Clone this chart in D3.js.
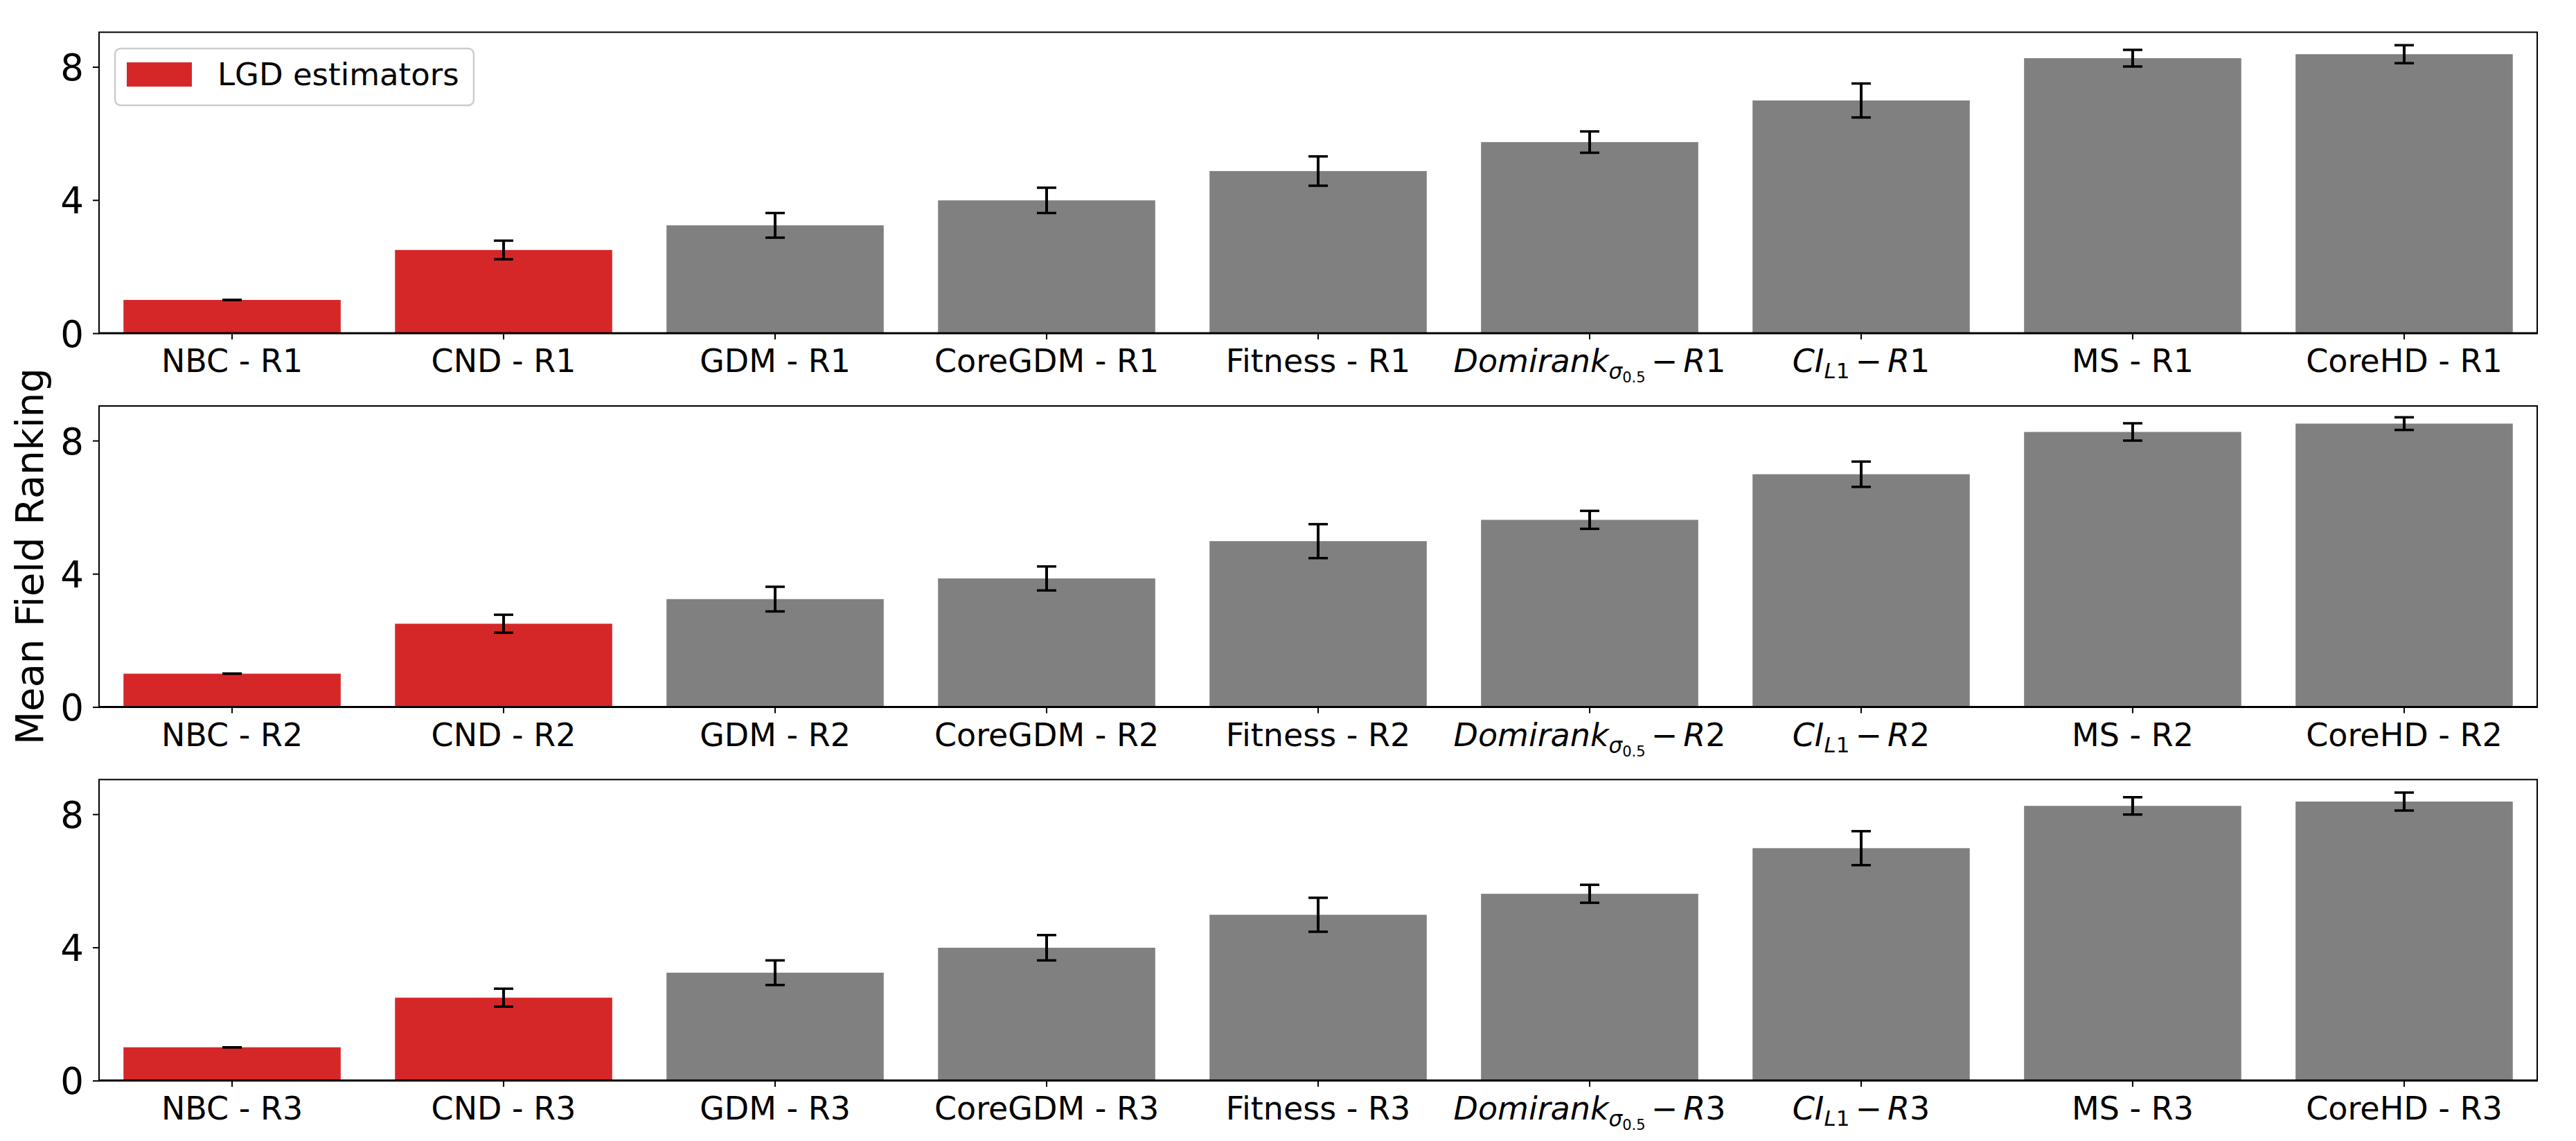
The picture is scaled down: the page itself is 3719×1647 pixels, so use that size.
<!DOCTYPE html>
<html>
<head>
<meta charset="utf-8">
<script src="https://cdn.jsdelivr.net/npm/d3@7"></script>
<style>
body { margin: 0; background: #fff; }
text { font-family: "DejaVu Sans", sans-serif; fill: #000; }
</style>
</head>
<body>
<div id="chart"></div>
<script>
// data
var methods = ["NBC", "CND", "GDM", "CoreGDM", "Fitness", "Domirank", "CI", "MS", "CoreHD"];
var lgdMethods = ["NBC", "CND"];
var runs = ["R1", "R2", "R3"];

var meansR1 = [1.00, 2.50, 3.24, 3.99, 4.87, 5.74, 6.99, 8.26, 8.38];
var errsR1  = [0.00, 0.28, 0.37, 0.38, 0.44, 0.32, 0.51, 0.25, 0.27];
var meansR2 = [1.00, 2.50, 3.24, 3.86, 4.98, 5.62, 6.99, 8.26, 8.51];
var errsR2  = [0.00, 0.27, 0.37, 0.36, 0.51, 0.27, 0.38, 0.26, 0.19];
var meansR3 = [1.00, 2.49, 3.24, 3.99, 4.98, 5.61, 6.98, 8.25, 8.38];
var errsR3  = [0.00, 0.27, 0.37, 0.38, 0.51, 0.27, 0.51, 0.26, 0.27];

var yTicks = [0, 4, 8];
var legendLabel = "LGD estimators";
var yLabel = "Mean Field Ranking";

var panels = [
	{run: runs[0], means: meansR1, errs: errsR1},
	{run: runs[1], means: meansR2, errs: errsR2},
	{run: runs[2], means: meansR3, errs: errsR3}
];

var width = 3719, height = 1647;
var left = 143, right = 3663;
var panelTop = [46.5, 586, 1125.3];
var panelH = 434.5;

var red = "#d62728", gray = "#808080";

var svg = d3.select("#chart").append("svg")
			.attr("width", width)
			.attr("height", height);

var xScale = d3.scaleBand()
				.domain(methods)
				.range([left, right])
				.paddingInner(0.2)
				.paddingOuter(0.09);

var yScale = d3.scaleLinear()
				.domain([0, 9.04])
				.range([panelH, 0]);

// tick label, with mathtext-like parts for two of them
function drawLabel(sel, name, run) {
	var t = sel.append("text")
			.attr("text-anchor", "middle")
			.attr("y", 56)
			.style("font-size", "46px");
	if (name == "Domirank") {
		t.append("tspan").style("font-style", "italic").text("Domirank");
		t.append("tspan").style("font-style", "italic").style("font-size", "31px").attr("dy", 10).text("σ");
		t.append("tspan").style("font-size", "21px").attr("dy", 5).text("0.5");
		t.append("tspan").attr("dy", -15).attr("dx", 8).text("−");
		t.append("tspan").style("font-style", "italic").attr("dx", 8).text("R");
		t.append("tspan").text(run.slice(1));
	} else if (name == "CI") {
		t.append("tspan").style("font-style", "italic").text("CI");
		t.append("tspan").style("font-style", "italic").style("font-size", "31px").attr("dy", 9).text("L");
		t.append("tspan").style("font-size", "31px").text("1");
		t.append("tspan").attr("dy", -9).attr("dx", 8).text("−");
		t.append("tspan").style("font-style", "italic").attr("dx", 8).text("R");
		t.append("tspan").text(run.slice(1));
	} else {
		t.text(name + " - " + run);
	}
}

panels.forEach(function(p, k) {
	var g = svg.append("g")
			.attr("transform", "translate(0," + panelTop[k] + ")");

	var rows = methods.map(function(m, i) {
		return {name: m, mean: p.means[i], err: p.errs[i]};
	});

	g.selectAll("rect.bar")
		.data(rows)
		.enter().append("rect")
			.attr("class", "bar")
			.attr("x", function(d) { return xScale(d.name); })
			.attr("width", xScale.bandwidth())
			.attr("y", function(d) { return yScale(d.mean); })
			.attr("height", function(d) { return yScale(0) - yScale(d.mean); })
			.style("fill", function(d) {
				return lgdMethods.indexOf(d.name) >= 0 ? red : gray;
			});

	// error bars
	var eb = g.selectAll("g.err")
		.data(rows)
		.enter().append("g")
			.attr("class", "err")
			.attr("transform", function(d) {
				return "translate(" + (xScale(d.name) + xScale.bandwidth() / 2) + ",0)";
			});
	eb.append("line")
		.attr("y1", function(d) { return yScale(d.mean - d.err); })
		.attr("y2", function(d) { return yScale(d.mean + d.err); })
		.style("stroke", "#000").style("stroke-width", 4);
	eb.append("line")
		.attr("x1", -14).attr("x2", 14)
		.attr("y1", function(d) { return yScale(d.mean + d.err); })
		.attr("y2", function(d) { return yScale(d.mean + d.err); })
		.style("stroke", "#000").style("stroke-width", 3.5);
	eb.append("line")
		.attr("x1", -14).attr("x2", 14)
		.attr("y1", function(d) { return yScale(d.mean - d.err); })
		.attr("y2", function(d) { return yScale(d.mean - d.err); })
		.style("stroke", "#000").style("stroke-width", 3.5);

	// frame
	g.append("rect")
		.attr("x", left).attr("y", 0)
		.attr("width", right - left).attr("height", panelH)
		.style("fill", "none").style("stroke", "#000").style("stroke-width", 2);
	g.append("line")
		.attr("x1", left - 1).attr("x2", right + 1)
		.attr("y1", panelH).attr("y2", panelH)
		.style("stroke", "#000").style("stroke-width", 3);

	// y axis
	var yAxis = g.append("g")
		.attr("transform", "translate(" + left + ",0)")
		.call(d3.axisLeft(yScale).tickValues(yTicks).tickSize(9).tickPadding(13).tickFormat(d3.format("d")));
	yAxis.select(".domain").remove();
	yAxis.selectAll(".tick line").style("stroke-width", 2);
	yAxis.selectAll(".tick text")
		.style("font-family", "DejaVu Sans")
		.style("font-size", "53px")
		.attr("dy", "0.36em");

	// x axis
	var xAxis = g.append("g")
		.attr("transform", "translate(0," + panelH + ")")
		.call(d3.axisBottom(xScale).tickSize(9).tickFormat(""));
	xAxis.select(".domain").remove();
	xAxis.selectAll(".tick line").style("stroke-width", 2);
	xAxis.selectAll(".tick").each(function(m) {
		drawLabel(d3.select(this), m, p.run);
	});
});

// legend in the top panel
var lg = svg.append("g");
lg.append("rect")
	.attr("x", 166).attr("y", 70)
	.attr("width", 518).attr("height", 82)
	.attr("rx", 8).attr("ry", 8)
	.style("fill", "#fff").style("fill-opacity", 0.8)
	.style("stroke", "#cccccc").style("stroke-width", 2.5);
lg.append("rect")
	.attr("x", 183).attr("y", 90)
	.attr("width", 94).attr("height", 35)
	.style("fill", red);
lg.append("text")
	.attr("x", 314).attr("y", 123)
	.style("font-size", "45px")
	.text(legendLabel);

// shared y label
svg.append("text")
	.attr("transform", "translate(62," + (panelTop[0] + panelTop[2] + panelH) / 2 + ") rotate(-90)")
	.attr("text-anchor", "middle")
	.style("font-size", "56px")
	.text(yLabel);
</script>
</body>
</html>
